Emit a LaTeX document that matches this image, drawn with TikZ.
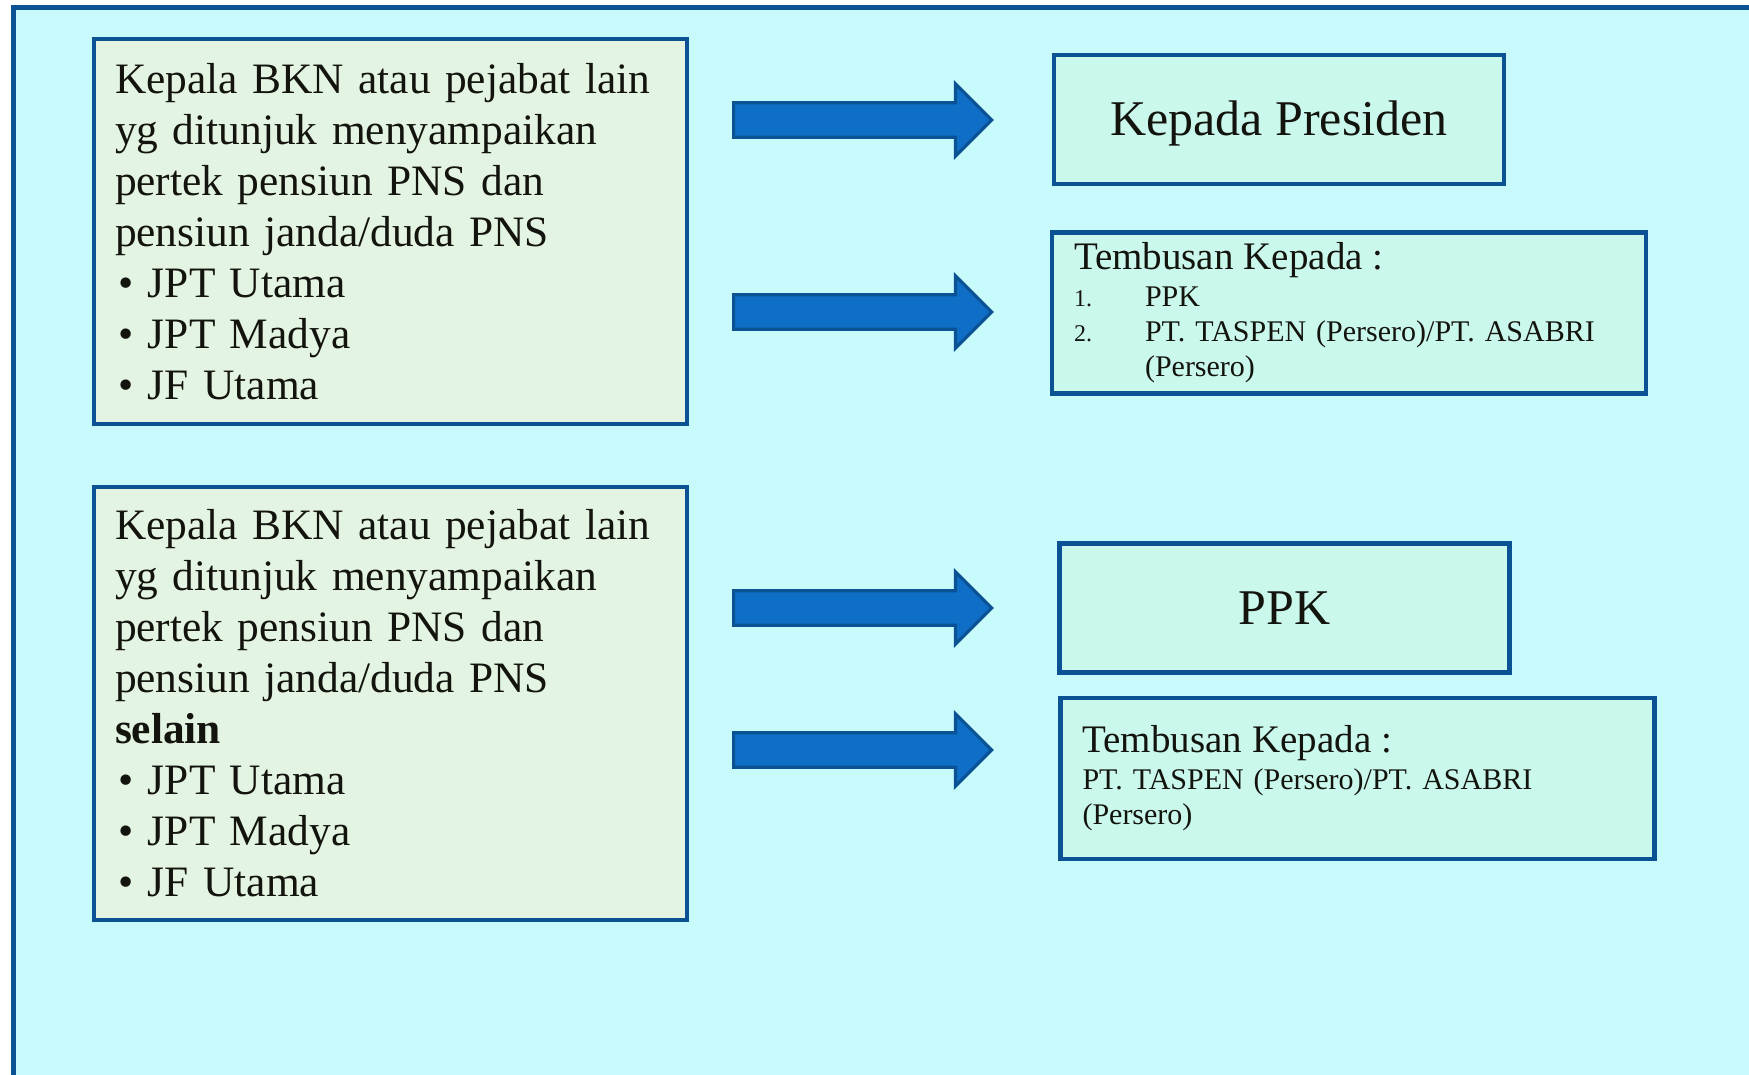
\documentclass[tikz,border=0pt]{standalone}
\usepackage{fontspec}
\setmainfont{Liberation Serif}
\usetikzlibrary{shapes.arrows}
\definecolor{bgcyan}{HTML}{C8FAFB}
\definecolor{lineblue}{HTML}{0B5294}
\definecolor{leftfill}{HTML}{E4F4E2}
\definecolor{rightfill}{HTML}{CAF8EC}
\definecolor{arrowfill}{HTML}{0F6FC7}
\definecolor{inkblack}{HTML}{14140E}
\newcommand{\bul}{\hspace*{1.5pt}\makebox[15pt][l]{\textbullet}}
\newcommand{\numit}[1]{\makebox[35.5pt][l]{\fontsize{12}{12}\selectfont #1}}
\tikzset{leftbox/.style = {draw=lineblue, line width=2.3pt, fill=leftfill, text=inkblack,
    inner xsep=10.5pt, text width=275.5pt, align=left, minimum width=296.5pt,
    font=\fontsize{21.7}{25.5}\selectfont}}
\tikzset{rightbox/.style = {draw=lineblue, line width=2.3pt, fill=rightfill, text=inkblack,
    minimum width=225pt, minimum height=64.5pt, font=\fontsize{25}{30}\selectfont}}
\tikzset{copybox/.style = {draw=lineblue, line width=2.3pt, fill=rightfill, text=inkblack,
    inner xsep=11pt, text width=275pt, align=left, minimum height=80.5pt,
    font=\fontsize{15}{17.5}\selectfont}}
\tikzset{blockarrow/.style = {shape=single arrow, draw=lineblue, line width=1.6pt, fill=arrowfill,
    inner xsep=0pt, inner ysep=7.8pt, minimum height=129pt, single arrow head extend=9.5pt}}

\begin{document}
\begin{tikzpicture}[x=0.5pt,y=-0.5pt]
  \path[use as bounding box, clip] (0,0) rectangle (1749,1075);
  \fill[white] (0,0) rectangle (1749,1075);
  \draw[line width=2.5pt, draw=lineblue, fill=bgcyan] (13,8) rectangle (1800,1120);

  % left boxes
  \node[leftbox, minimum height=192.5pt] (K1) at (390.5,231.5) {Kepala BKN atau pejabat lain\\
    yg ditunjuk menyampaikan\\ pertek pensiun PNS dan\\ pensiun janda/duda PNS\\
    \bul JPT Utama\\ \bul JPT Madya\\ \bul JF Utama};
  \node[leftbox, minimum height=216.5pt] (K2) at (390.5,703.5) {Kepala BKN atau pejabat lain\\
    yg ditunjuk menyampaikan\\ pertek pensiun PNS dan\\ pensiun janda/duda PNS\\
    \textbf{selain}\\ \bul JPT Utama\\ \bul JPT Madya\\ \bul JF Utama};

  % arrows
  \node[blockarrow] (A1) at (854,120) {};
  \node[blockarrow] (A2) at (854,312) {};
  \node[blockarrow] (A3) at (854,608) {};
  \node[blockarrow] (A4) at (854,750) {};

  % right boxes
  \node[rightbox] (Pres) at (1279,119.5) {\raisebox{-8.25pt}[0pt][0pt]{Kepada Presiden}};
  \node[copybox] (T1) at (1349,313) {{\fontsize{19.5}{22}\selectfont Tembusan Kepada :}\\[1pt]
    \numit{1.}PPK\\ \numit{2.}PT. TASPEN (Persero)/PT. ASABRI\\ \hspace*{35.5pt}(Persero)};
  \node[rightbox] (PPK) at (1284.5,608) {PPK};
  \node[copybox] (T2) at (1357.5,778.5) {{\fontsize{19.5}{22}\selectfont Tembusan Kepada :}\\[1pt]
    PT. TASPEN (Persero)/PT. ASABRI\\ (Persero)};
\end{tikzpicture}
\end{document}
